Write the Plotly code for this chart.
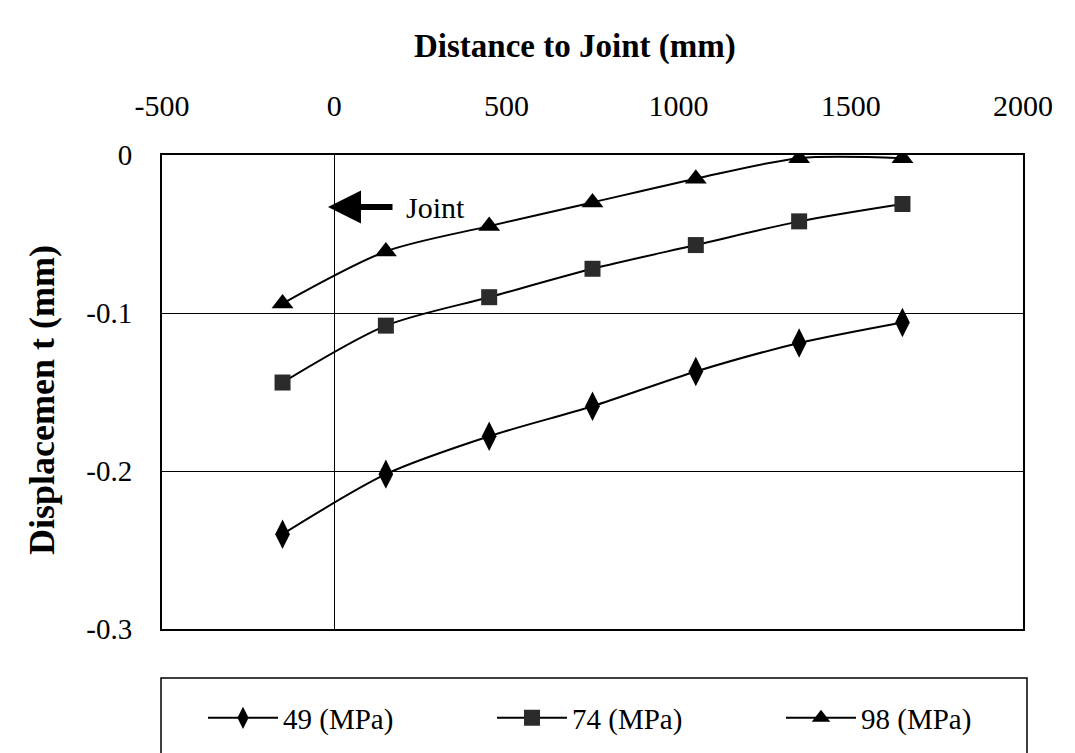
import plotly.graph_objects as go

# ---- data ----
distance_mm = [-150, 150, 450, 750, 1050, 1350, 1650]
disp_49 = [-0.240, -0.202, -0.178, -0.159, -0.137, -0.119, -0.106]
disp_74 = [-0.144, -0.108, -0.090, -0.072, -0.057, -0.042, -0.031]
disp_98 = [-0.094, -0.061, -0.045, -0.030, -0.015, -0.002, -0.002]
series_names = ["49 (MPa)", "74 (MPa)", "98 (MPa)"]
x_tick_vals = [-500, 0, 500, 1000, 1500, 2000]
x_tick_text = ["-500", "0", "500", "1000", "1500", "2000"]
y_tick_vals = [0, -0.1, -0.2, -0.3]
y_tick_text = ["0", "-0.1", "-0.2", "-0.3"]

FONT = "Liberation Serif"
W, H = 1075, 753
L, R, T, B = 162, 52, 155, 124
PW, PH = W - L - R, H - T - B

def px_x(px):
    return (px - L) / PW

def px_y(py):
    return (H - B - py) / PH

def px_to_mm(px):
    return (px - L) * 2500 / PW - 500

fig = go.Figure()
styles = [
    (disp_49, "diamond-tall", 21, "black", "legend", 203),
    (disp_74, "square", 16, "#2b2b2b", "legend2", 492),
    (disp_98, "triangle-up", 19, "black", "legend3", 781),
]
legend_cfg = {}
for (vals, sym, size, mc, lg, lx), name in zip(styles, series_names):
    fig.add_trace(go.Scatter(
        x=distance_mm, y=vals, name=name, mode="lines+markers",
        line=dict(color="black", width=2, shape="spline", smoothing=0.8),
        marker=dict(symbol=sym, size=size, color=mc, line=dict(width=0)),
        legend=lg,
    ))
    legend_cfg[lg] = dict(
        orientation="h", x=px_x(lx), y=px_y(718), xanchor="left", yanchor="middle",
        font=dict(family=FONT, size=29, color="black"),
        bgcolor="rgba(0,0,0,0)", borderwidth=0, itemwidth=70,
    )

fig.update_layout(
    width=W, height=H,
    margin=dict(l=L, r=R, t=T, b=B, autoexpand=False),
    paper_bgcolor="white", plot_bgcolor="white",
    font=dict(family=FONT, color="black"),
    showlegend=True,
    **legend_cfg,
)

fig.update_xaxes(
    side="top", range=[-500, 2000], tickvals=x_tick_vals, ticktext=x_tick_text,
    tickfont=dict(family=FONT, size=30, color="black"),
    showgrid=False, zeroline=True, zerolinecolor="black", zerolinewidth=1,
    showline=True, linecolor="black", linewidth=2, mirror=True,
    ticks="", ticklabelstandoff=25,
)
fig.update_yaxes(
    range=[-0.3, 0], tickvals=y_tick_vals, ticktext=y_tick_text,
    tickfont=dict(family=FONT, size=29, color="black"),
    showgrid=True, gridcolor="black", gridwidth=1, zeroline=False,
    showline=True, linecolor="black", linewidth=2, mirror=True,
    ticks="", ticklabelstandoff=22,
)

# axis titles
fig.add_annotation(
    text="<b>Distance to Joint (mm)</b>", xref="paper", yref="paper",
    x=px_x(575), y=px_y(47), showarrow=False, xanchor="center", yanchor="middle",
    font=dict(family=FONT, size=33, color="black"),
)
fig.add_annotation(
    text="<b>Displacemen t (mm)</b>", xref="paper", yref="paper",
    x=px_x(42), y=px_y(400), showarrow=False, textangle=-90,
    xanchor="center", yanchor="middle",
    font=dict(family=FONT, size=36, color="black"),
)

# joint arrow + label
joint_y = -(207 - T) / (PH / 0.3)
fig.add_annotation(
    x=px_to_mm(328), y=joint_y, ax=px_to_mm(394), ay=joint_y,
    xref="x", yref="y", axref="x", ayref="y", text="",
    showarrow=True, arrowhead=2, arrowsize=1.1, arrowwidth=6, arrowcolor="black",
)
fig.add_annotation(
    x=px_to_mm(404), y=joint_y, xref="x", yref="y", text="Joint",
    showarrow=False, xanchor="left", yanchor="middle",
    font=dict(family=FONT, size=30, color="black"),
)

# legend frame
fig.add_shape(
    type="rect", xref="paper", yref="paper",
    x0=px_x(161), x1=px_x(1027), y0=px_y(800), y1=px_y(678),
    line=dict(color="black", width=1.5), fillcolor="rgba(0,0,0,0)",
)

fig.write_html("out.html")
